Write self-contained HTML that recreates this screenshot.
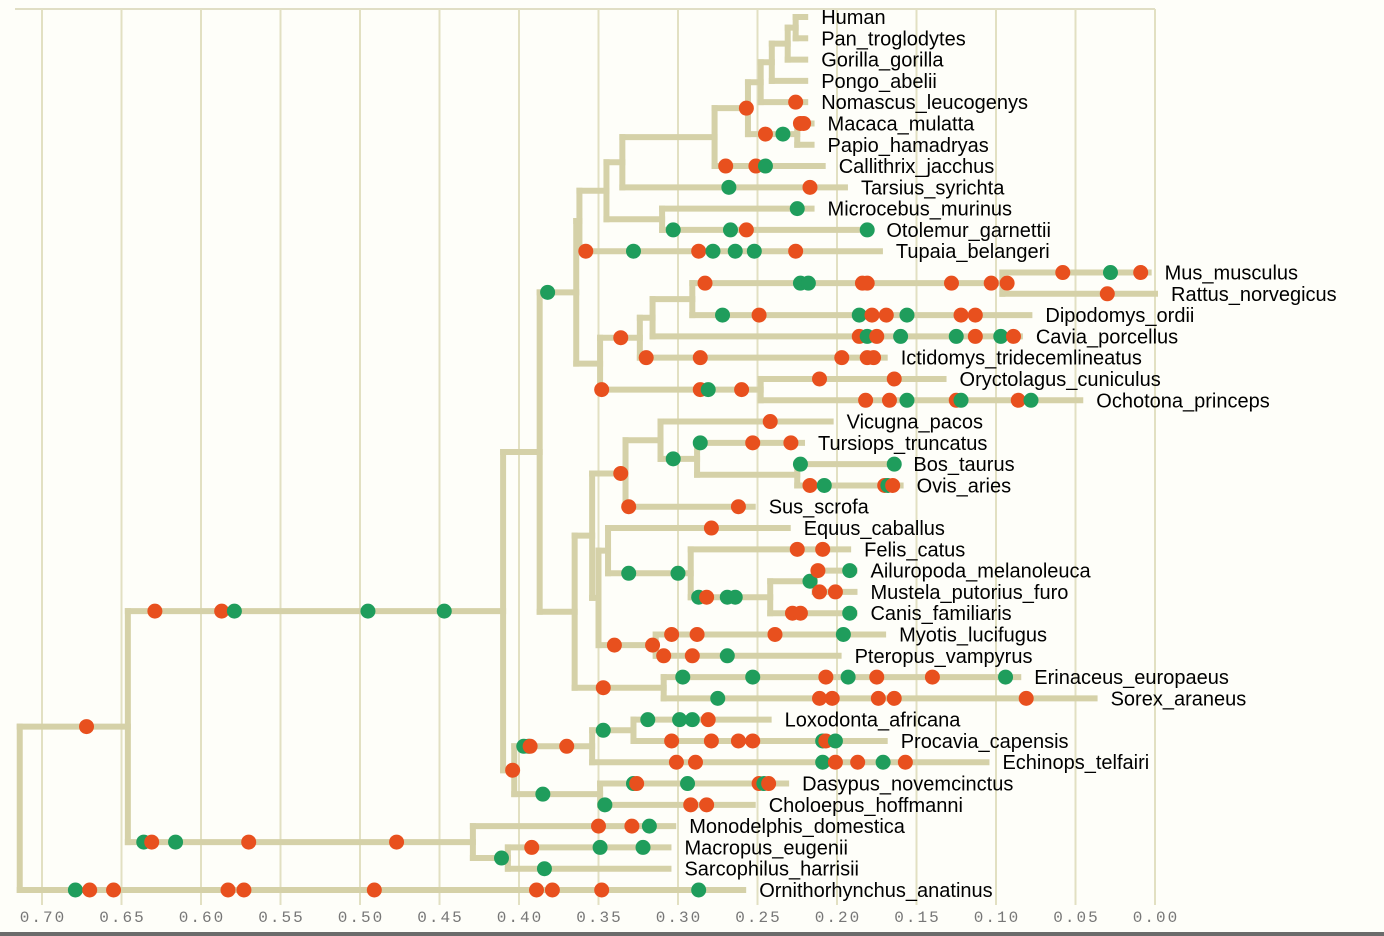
<!DOCTYPE html>
<html><head><meta charset="utf-8">
<style>
html,body{margin:0;padding:0;background:#fefef9;}
svg{display:block;}
.lbl{font-family:"Liberation Sans",sans-serif;font-size:20px;fill:#000;}
.tick{font-family:"Liberation Mono",monospace;font-size:16px;fill:#777;letter-spacing:2px;}
</style></head>
<body>
<svg id="chart" width="1384" height="936">
<rect x="0" y="0" width="1384" height="936" fill="#fefef9"/>
<g id="grid"></g>
<g id="branches"></g>
<g id="dots"></g>
<g id="labels"></g>
<g id="axis"></g>
</svg>
<script>
const tickValues = [0.70,0.65,0.60,0.55,0.50,0.45,0.40,0.35,0.30,0.25,0.20,0.15,0.10,0.05,0.00];
const leafNames = ["Human","Pan_troglodytes","Gorilla_gorilla","Pongo_abelii","Nomascus_leucogenys","Macaca_mulatta","Papio_hamadryas","Callithrix_jacchus","Tarsius_syrichta","Microcebus_murinus","Otolemur_garnettii","Tupaia_belangeri","Mus_musculus","Rattus_norvegicus","Dipodomys_ordii","Cavia_porcellus","Ictidomys_tridecemlineatus","Oryctolagus_cuniculus","Ochotona_princeps","Vicugna_pacos","Tursiops_truncatus","Bos_taurus","Ovis_aries","Sus_scrofa","Equus_caballus","Felis_catus","Ailuropoda_melanoleuca","Mustela_putorius_furo","Canis_familiaris","Myotis_lucifugus","Pteropus_vampyrus","Erinaceus_europaeus","Sorex_araneus","Loxodonta_africana","Procavia_capensis","Echinops_telfairi","Dasypus_novemcinctus","Choloepus_hoffmanni","Monodelphis_domestica","Macropus_eugenii","Sarcophilus_harrisii","Ornithorhynchus_anatinus"];
const leafEnds = [0.220,0.220,0.220,0.220,0.220,0.216,0.216,0.209,0.195,0.216,0.179,0.173,0.004,0.000,0.079,0.085,0.170,0.133,0.047,0.204,0.222,0.162,0.160,0.253,0.231,0.193,0.189,0.189,0.189,0.171,0.199,0.086,0.038,0.243,0.170,0.106,0.232,0.253,0.303,0.306,0.306,0.259];
// internal nodes: [name, value, childA, childB]
const internalNodes = [
["HumanPan",0.226,"Human","Pan_troglodytes"],
["Homininae",0.231,"HumanPan","Gorilla_gorilla"],
["Hominidae",0.241,"Homininae","Pongo_abelii"],
["Hominoidea",0.248,"Hominidae","Nomascus_leucogenys"],
["Cercopithecidae",0.225,"Macaca_mulatta","Papio_hamadryas"],
["Catarrhini",0.256,"Hominoidea","Cercopithecidae"],
["Simiiformes",0.277,"Catarrhini","Callithrix_jacchus"],
["Haplorhini",0.335,"Simiiformes","Tarsius_syrichta"],
["Strepsirrhini",0.310,"Microcebus_murinus","Otolemur_garnettii"],
["Primates",0.345,"Haplorhini","Strepsirrhini"],
["Euarchonta",0.362,"Primates","Tupaia_belangeri"],
["MusRat",0.096,"Mus_musculus","Rattus_norvegicus"],
["RodB",0.291,"MusRat","Dipodomys_ordii"],
["RodA",0.316,"RodB","Cavia_porcellus"],
["Rodentia",0.324,"RodA","Ictidomys_tridecemlineatus"],
["Lagomorpha",0.248,"Oryctolagus_cuniculus","Ochotona_princeps"],
["Glires",0.349,"Rodentia","Lagomorpha"],
["Euarchontoglires",0.364,"Euarchonta","Glires"],
["Ruminantia",0.225,"Bos_taurus","Ovis_aries"],
["Cetruminantia",0.288,"Tursiops_truncatus","Ruminantia"],
["Vnode",0.311,"Vicugna_pacos","Cetruminantia"],
["Cetartiodactyla",0.333,"Vnode","Sus_scrofa"],
["Wnode",0.214,"Ailuropoda_melanoleuca","Mustela_putorius_furo"],
["Caniformia",0.242,"Wnode","Canis_familiaris"],
["Carnivora",0.292,"Felis_catus","Caniformia"],
["Znode",0.344,"Equus_caballus","Carnivora"],
["Chiroptera",0.314,"Myotis_lucifugus","Pteropus_vampyrus"],
["Ynode",0.350,"Znode","Chiroptera"],
["Scrotifera",0.354,"Cetartiodactyla","Ynode"],
["Eulipotyphla",0.309,"Erinaceus_europaeus","Sorex_araneus"],
["Laurasiatheria",0.365,"Scrotifera","Eulipotyphla"],
["Boreoeutheria",0.387,"Euarchontoglires","Laurasiatheria"],
["Paenungulata",0.328,"Loxodonta_africana","Procavia_capensis"],
["Afrotheria",0.354,"Paenungulata","Echinops_telfairi"],
["Xenarthra",0.349,"Dasypus_novemcinctus","Choloepus_hoffmanni"],
["Atlantogenata",0.403,"Afrotheria","Xenarthra"],
["Eutheria",0.410,"Boreoeutheria","Atlantogenata"],
["Australidelphia",0.407,"Macropus_eugenii","Sarcophilus_harrisii"],
["Marsupialia",0.429,"Monodelphis_domestica","Australidelphia"],
["Theria",0.646,"Eutheria","Marsupialia"],
["Root",0.714,"Theria","Ornithorhynchus_anatinus"]
];
// dots: [branch (node name), value, color o/g]
const dotBranches = ["Nomascus_leucogenys","Catarrhini","Macaca_mulatta","Macaca_mulatta","Cercopithecidae","Cercopithecidae","Callithrix_jacchus","Callithrix_jacchus","Callithrix_jacchus","Tarsius_syrichta","Tarsius_syrichta","Microcebus_murinus","Otolemur_garnettii","Otolemur_garnettii","Otolemur_garnettii","Otolemur_garnettii","Tupaia_belangeri","Tupaia_belangeri","Tupaia_belangeri","Tupaia_belangeri","Tupaia_belangeri","Tupaia_belangeri","Tupaia_belangeri","Euarchontoglires",
"MusRat","MusRat","MusRat","MusRat","MusRat","MusRat","MusRat","MusRat","Mus_musculus","Mus_musculus","Mus_musculus","Rattus_norvegicus",
"Dipodomys_ordii","Dipodomys_ordii","Dipodomys_ordii","Dipodomys_ordii","Dipodomys_ordii","Dipodomys_ordii","Dipodomys_ordii","Dipodomys_ordii",
"Cavia_porcellus","Cavia_porcellus","Cavia_porcellus","Cavia_porcellus","Cavia_porcellus","Cavia_porcellus","Cavia_porcellus","Cavia_porcellus",
"Rodentia","Ictidomys_tridecemlineatus","Ictidomys_tridecemlineatus","Ictidomys_tridecemlineatus","Ictidomys_tridecemlineatus","Ictidomys_tridecemlineatus",
"Lagomorpha","Lagomorpha","Lagomorpha","Lagomorpha","Oryctolagus_cuniculus","Oryctolagus_cuniculus",
"Ochotona_princeps","Ochotona_princeps","Ochotona_princeps","Ochotona_princeps","Ochotona_princeps","Ochotona_princeps","Ochotona_princeps",
"Vicugna_pacos","Tursiops_truncatus","Tursiops_truncatus","Tursiops_truncatus","Cetruminantia","Bos_taurus","Bos_taurus",
"Ovis_aries","Ovis_aries","Ovis_aries","Ovis_aries","Ovis_aries","Cetartiodactyla","Sus_scrofa","Sus_scrofa","Equus_caballus",
"Carnivora","Carnivora","Felis_catus","Felis_catus","Caniformia","Caniformia","Caniformia","Caniformia","Wnode",
"Ailuropoda_melanoleuca","Ailuropoda_melanoleuca","Mustela_putorius_furo","Mustela_putorius_furo","Canis_familiaris","Canis_familiaris","Canis_familiaris",
"Chiroptera","Chiroptera","Myotis_lucifugus","Myotis_lucifugus","Myotis_lucifugus","Myotis_lucifugus","Pteropus_vampyrus","Pteropus_vampyrus","Pteropus_vampyrus",
"Eulipotyphla","Erinaceus_europaeus","Erinaceus_europaeus","Erinaceus_europaeus","Erinaceus_europaeus","Erinaceus_europaeus","Erinaceus_europaeus","Erinaceus_europaeus",
"Sorex_araneus","Sorex_araneus","Sorex_araneus","Sorex_araneus","Sorex_araneus","Sorex_araneus",
"Atlantogenata","Afrotheria","Afrotheria","Afrotheria","Afrotheria","Paenungulata",
"Loxodonta_africana","Loxodonta_africana","Loxodonta_africana","Loxodonta_africana",
"Procavia_capensis","Procavia_capensis","Procavia_capensis","Procavia_capensis","Procavia_capensis","Procavia_capensis","Procavia_capensis",
"Echinops_telfairi","Echinops_telfairi","Echinops_telfairi","Echinops_telfairi","Echinops_telfairi","Echinops_telfairi","Echinops_telfairi",
"Xenarthra","Dasypus_novemcinctus","Dasypus_novemcinctus","Dasypus_novemcinctus","Dasypus_novemcinctus","Dasypus_novemcinctus","Dasypus_novemcinctus",
"Choloepus_hoffmanni","Choloepus_hoffmanni","Choloepus_hoffmanni",
"Eutheria","Eutheria","Eutheria","Eutheria","Eutheria","Theria",
"Marsupialia","Marsupialia","Marsupialia","Marsupialia","Marsupialia",
"Monodelphis_domestica","Monodelphis_domestica","Monodelphis_domestica","Australidelphia",
"Macropus_eugenii","Macropus_eugenii","Macropus_eugenii","Sarcophilus_harrisii",
"Ornithorhynchus_anatinus","Ornithorhynchus_anatinus","Ornithorhynchus_anatinus","Ornithorhynchus_anatinus","Ornithorhynchus_anatinus","Ornithorhynchus_anatinus","Ornithorhynchus_anatinus","Ornithorhynchus_anatinus","Ornithorhynchus_anatinus","Ornithorhynchus_anatinus"];
const dotValues = [0.226,0.257,0.223,0.221,0.245,0.234,0.270,0.251,0.245,0.268,0.217,0.225,0.303,0.267,0.257,0.181,0.358,0.328,0.287,0.278,0.264,0.252,0.226,0.382,
0.283,0.223,0.218,0.184,0.181,0.128,0.103,0.093,0.058,0.028,0.009,0.030,
0.272,0.249,0.186,0.178,0.169,0.156,0.122,0.113,
0.186,0.181,0.175,0.160,0.125,0.113,0.097,0.089,
0.336,0.320,0.286,0.197,0.181,0.177,
0.348,0.286,0.281,0.260,0.211,0.164,
0.182,0.167,0.156,0.125,0.122,0.086,0.078,
0.242,0.286,0.253,0.229,0.303,0.223,0.164,
0.217,0.208,0.170,0.168,0.165,0.336,0.331,0.262,0.279,
0.331,0.300,0.225,0.209,0.287,0.282,0.269,0.264,0.217,
0.212,0.192,0.211,0.201,0.228,0.223,0.192,
0.340,0.316,0.304,0.288,0.239,0.196,0.309,0.291,0.269,
0.347,0.297,0.253,0.207,0.193,0.175,0.140,0.094,
0.275,0.211,0.203,0.174,0.164,0.081,
0.404,0.397,0.394,0.393,0.370,0.347,
0.319,0.299,0.291,0.281,
0.304,0.279,0.262,0.253,0.209,0.207,0.201,
0.301,0.289,0.209,0.201,0.187,0.171,0.157,
0.385,0.328,0.326,0.294,0.249,0.246,0.243,
0.346,0.292,0.282,
0.629,0.587,0.579,0.495,0.447,0.672,
0.636,0.631,0.616,0.570,0.477,
0.350,0.329,0.318,0.411,
0.392,0.349,0.322,0.384,
0.679,0.670,0.655,0.583,0.573,0.491,0.389,0.379,0.348,0.287];
const dotColors = ["o","o","o","o","o","g","o","o","g","g","o","g","g","g","o","g","o","g","o","g","g","g","o","g",
"o","g","g","o","o","o","o","o","o","g","o","o",
"g","o","g","o","o","g","o","o",
"o","g","o","g","g","o","g","o",
"o","o","o","o","o","o",
"o","o","g","o","o","o",
"o","o","g","o","g","o","g",
"o","g","o","o","g","g","g",
"o","g","o","g","o","o","o","o","o",
"g","g","o","o","g","o","g","g","g",
"o","g","o","o","o","o","g",
"o","o","o","o","o","g","o","o","g",
"o","g","g","o","g","o","o","g",
"g","o","o","o","o","o",
"o","g","g","o","o","g",
"g","g","g","o",
"o","o","o","o","g","o","g",
"o","o","g","o","o","g","o",
"g","g","o","g","o","g","o",
"g","o","o",
"o","o","g","g","g","o",
"g","o","g","o","o",
"o","o","g","g",
"o","g","g","g",
"g","o","o","o","o","o","o","o","o","g"];

const NS="http://www.w3.org/2000/svg";
const X0=1155, SCALE=1590;
function xs(v){return X0 - v*SCALE;}
const ROW0=17, ROWH=(890-17)/41;
function ys(i){return ROW0 + i*ROWH;}
function mk(tag,attrs,parent){const e=document.createElementNS(NS,tag);for(const k in attrs)e.setAttribute(k,attrs[k]);parent.appendChild(e);return e;}

const grid=document.getElementById('grid');
const axis=document.getElementById('axis');
mk('line',{x1:15,x2:xs(0),y1:9,y2:9,stroke:'#e0dec4','stroke-width':2},grid);
tickValues.forEach(t=>{
  const gl=mk('line',{x1:xs(t),x2:xs(t),y1:9,y2:905,stroke:'#e2e0c2','stroke-width':2},grid);
  
  
  const tl=mk('text',{x:xs(t)+1,y:922,'text-anchor':'middle',class:'tick'},axis);
  tl.textContent=t.toFixed(2);
  
  
});
mk('rect',{x:0,y:932,width:1384,height:4,fill:'#6b6b6b'},axis);

// build nodes
const nodes={};
leafNames.forEach((n,i)=>{nodes[n]={name:n,v:leafEnds[i],y:ys(i),leaf:true};});
internalNodes.forEach(d=>{
  const a=nodes[d[2]], b=nodes[d[3]];
  nodes[d[0]]={name:d[0],v:d[1],y:(a.y+b.y)/2,kids:[a,b]};
  a.parent=nodes[d[0]]; b.parent=nodes[d[0]];
});
const br=document.getElementById('branches');
const BC='#d5d1a8', BW=6;
Object.values(nodes).forEach(n=>{
  if(n.parent){
    const h=mk('line',{x1:xs(n.parent.v),x2:xs(n.v),y1:n.y,y2:n.y,stroke:BC,'stroke-width':BW,'stroke-linecap':'square'},br);
    
    
  }
  if(n.kids){
    const v=mk('line',{x1:xs(n.v),x2:xs(n.v),y1:n.kids[0].y,y2:n.kids[1].y,stroke:BC,'stroke-width':BW,'stroke-linecap':'square'},br);
    
    
  }
});
const dg=document.getElementById('dots');
dotValues.forEach((val,i)=>{
  const n=nodes[dotBranches[i]];
  const c=mk('circle',{cx:xs(val),cy:n.y,r:7.5,fill:dotColors[i]==='o'?'#e8501e':'#1f9d5c'},dg);
  
  
});
const lg=document.getElementById('labels');
leafNames.forEach((n,i)=>{
  const t=mk('text',{x:xs(leafEnds[i])+16,y:ys(i)+7,class:'lbl'},lg);
  t.textContent=n;
  
  
});
</script>
</body></html>
